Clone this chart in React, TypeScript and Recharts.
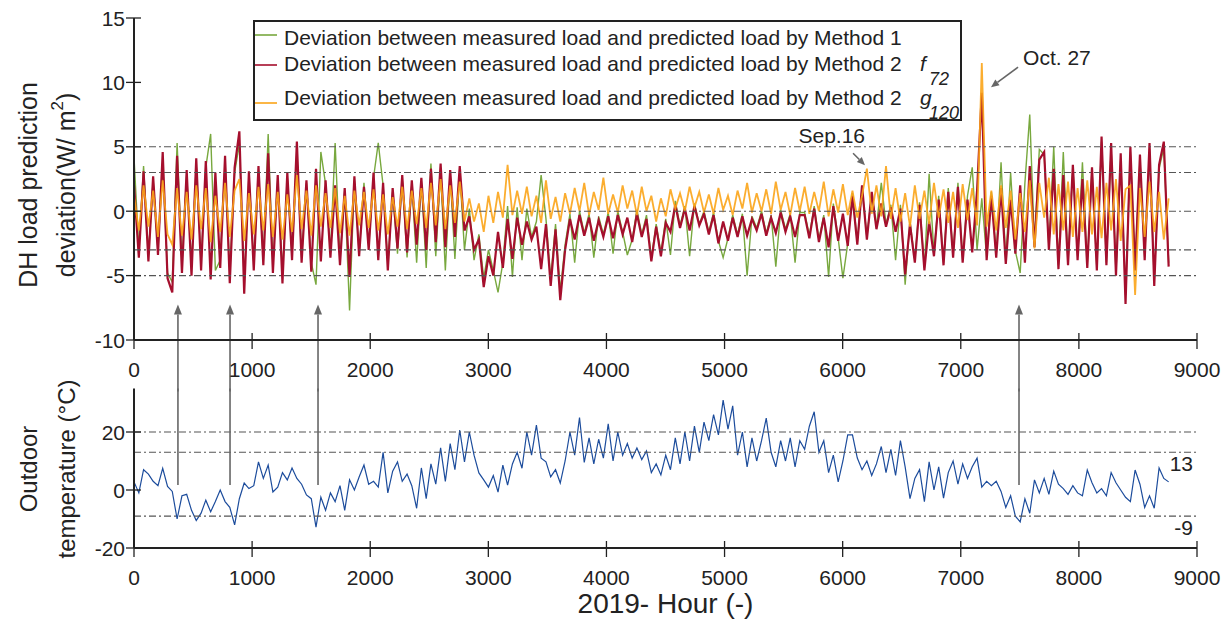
import React from 'react';
import { LineChart, Line, XAxis, YAxis, ReferenceLine, Legend } from 'recharts';

const FONT = '"Liberation Sans", Arial, Helvetica, sans-serif';
const INK = '#222';
const ARROW_GREY = '#666';

// ---------- data (one value every ~40.6 h) ----------
const N_POINTS = 217;
const HOURS = Array.from({ length: N_POINTS }, (_, i) => Math.round((i * 8760) / (N_POINTS - 1)));

const DEV_METHOD1 = [
  4.2, -3.0, 3.5, -3.4, 2.4, -3.0, 3.8, -4.8, -5.5, 5.3,
  -4.0, 2.8, -4.2, 3.6, -4.0, 3.4, 6.0, -4.6, -3.8, 3.8,
  -4.8, 3.0, 5.2, -5.5, 2.8, -4.0, 3.1, -3.8, 6.0, -4.2,
  2.5, -4.8, 2.6, -3.4, 4.6, -3.6, 2.2, -4.0, -5.7, 4.6,
  2.1, -3.2, 5.3, -3.8, 1.6, -7.7, 2.4, -3.2, 2.2, -2.7,
  2.6, 5.3, 2.0, -4.1, 1.5, -3.3, 2.5, -3.6, 2.1, -4.0,
  2.3, -4.4, 3.7, -3.5, 3.0, -4.6, 2.8, -3.7, 3.0, -3.0,
  0.2, -3.8, -1.8, -5.2, -3.0, -4.6, -6.3, -4.0, 0.4, -5.1,
  0.3, -3.8, 0.2, -2.0, -0.8, 2.8, -0.6, -5.2, -1.0, -6.2,
  -2.6, -0.2, -4.0, 0.0, -1.7, -0.2, -3.6, -0.4, -1.8, -0.1,
  -3.3, 0.0, -1.6, -3.4, -2.2, 0.1, -1.8, -0.3, -3.6, -1.0,
  -3.2, -0.6, -3.4, 0.8, -1.1, 0.4, -3.5, 0.6, -1.0, 0.0,
  -1.6, -0.1, -2.3, -3.6, -2.1, -0.3, -1.8, -0.2, -5.0, -0.4,
  -1.3, 0.0, -1.7, -0.3, -4.3, 0.1, -1.4, -0.2, -4.0, -0.1,
  -0.1, -1.9, 0.4, -2.2, -0.3, -5.1, 0.6, -2.1, -5.2, -2.5,
  1.4, -2.4, 1.8, -2.0, 1.3, -1.2, 2.2, -1.0, 0.5, -3.8,
  0.5, -5.7, -0.8, -3.8, 0.7, -4.4, 2.9, -3.3, 1.2, -4.0,
  1.8, -3.4, 2.2, -3.8, 1.2, 3.4, -3.0, 1.0, -3.6, 1.5,
  -3.4, 3.8, -3.9, 3.0, -3.1, -4.8, 2.2, 7.5, -2.6, 4.8,
  4.4, -2.8, 5.0, -4.2, 4.6, -3.9, 3.4, -3.5, 3.8, -4.1,
  3.2, -4.4, 5.4, -4.0, 4.8, -4.7, 4.1, -6.5, 4.6, -4.3,
  4.0, -3.6, 4.8, -5.4, 3.3, 4.9, -4.0,
];

const DEV_F72 = [
  2.0, -3.6, 3.1, -3.9, 2.7, -3.4, 4.6, -5.2, -6.3, 4.3,
  -4.8, 3.2, -5.0, 4.1, -4.6, 3.9, -5.3, 3.0, -4.4, 4.3,
  -5.6, 3.4, 6.2, -6.4, 3.1, -4.6, 3.5, -4.2, 4.5, -4.8,
  2.8, -5.6, 3.0, -3.8, 5.4, -4.0, 2.4, -4.7, 3.3, -3.9,
  2.4, -3.6, 2.0, -4.2, 1.8, -5.1, 2.7, -3.5, 1.9, -3.0,
  3.0, -3.8, 2.2, -4.6, 1.8, -2.9, 2.8, -3.2, 2.4, -2.6,
  2.6, -3.0, 3.3, -2.4, 3.7, -2.8, 3.2, -2.0, 3.5, -1.5,
  -0.4, -3.0, -2.2, -5.9, -3.5, -5.0, -1.6, -4.4, -0.6, -3.7,
  -0.5, -2.6, -0.8, -2.2, -1.2, -4.5, -1.0, -5.8, -1.4, -6.9,
  -3.0, -0.6, -2.2, -0.3, -1.9, -0.5, -2.3, -0.7, -2.0, -0.4,
  -2.1, -0.3, -1.8, -0.5, -2.4, -0.2, -2.0, -0.6, -3.9, -1.2,
  -3.5, -0.9, -1.6, 0.5, -1.3, 0.2, -1.5, 0.4, -1.1, -0.2,
  -1.8, -0.3, -2.5, -0.8, -2.3, -0.5, -2.0, -0.4, -1.9, -0.6,
  -1.5, -0.2, -1.9, -0.5, -1.7, -0.1, -1.6, -0.4, -2.0, -0.3,
  -0.3, -2.1, 0.2, -2.4, -0.5, -2.8, 0.4, -2.3, -0.2, -2.7,
  1.2, -2.6, 2.0, -2.2, 1.5, -1.4, 0.6, -1.2, 0.3, -1.6,
  0.2, -4.9, -1.0, -4.0, 0.5, -4.6, -0.8, -3.5, 0.9, -4.2,
  1.5, -3.6, 1.9, -4.0, 0.9, -3.2, 1.6, 9.2, -3.8, 1.2,
  -3.6, 1.8, -4.1, 0.9, -3.3, 2.0, -4.0, 3.5, -2.8, 4.0,
  4.6, -3.0, 3.3, -4.5, 2.8, -4.2, 3.6, -3.8, 2.5, -4.4,
  3.4, -4.6, 5.8, -4.2, 5.3, -5.0, 4.5, -7.2, 5.0, -4.6,
  4.4, -3.8, 5.3, -5.8, 3.6, 5.4, -4.3,
];

const DEV_G120 = [
  1.2, -1.5, 2.0, -1.2, 1.6, -2.0, 2.4, -1.8, -2.6, 1.8,
  -1.9, 1.5, -2.2, 2.0, -1.4, 1.8, -2.4, 1.2, -1.6, 2.2,
  -2.0, 1.6, 2.5, -2.3, 1.4, -1.8, 1.9, -1.5, 2.1, -2.0,
  1.5, -2.2, 1.3, -1.6, 2.8, -1.4, 1.6, -1.9, 2.0, -1.2,
  1.4, -1.3, 1.8, -1.7, 1.2, -1.9, 1.6, -1.1, 1.5, -1.3,
  1.7, -1.5, 1.3, -1.8, 1.1, -1.2, 1.9, -1.4, 1.6, -1.0,
  1.8, -1.3, 2.2, -1.1, 2.5, -1.4, 2.0, -0.9, 2.3, -0.8,
  1.0, -0.8, 0.6, -1.6, 1.2, -0.9, 1.5, -0.5, 3.6, -0.3,
  1.6, -0.2, 1.9, -0.4, 1.2, -0.9, 2.4, -0.6, 1.1, -0.8,
  1.4, -0.2, 1.8, 0.0, 2.2, -0.3, 1.5, 0.1, 2.6, -0.2,
  1.3, -0.1, 2.0, 0.2, 1.6, -0.3, 1.9, 0.0, 1.2, -0.8,
  1.0, -0.4, 1.7, 0.2, 1.4, 0.0, 1.9, 0.3, 1.5, -0.1,
  1.3, -0.2, 1.8, 0.1, 1.2, -0.3, 1.6, 0.2, 2.2, -0.1,
  1.4, 0.0, 1.7, -0.2, 2.3, 0.1, 1.5, -0.3, 1.8, 0.0,
  1.9, -0.2, 1.5, 0.0, 2.3, -0.4, 1.7, -0.1, 2.1, -0.3,
  1.6, -0.5, 1.2, 3.3, -0.2, 2.0, -0.4, 3.5, -0.6, 1.8,
  -0.8, 1.4, -1.2, 2.0, -0.6, 1.6, -1.0, 2.2, -0.5, 1.7,
  -0.9, 1.5, -1.3, 2.1, -0.7, 1.8, -1.1, 11.5, -1.2, 1.6,
  -1.5, 2.0, -1.3, 1.6, -2.2, 1.4, -1.6, 2.4, -2.9, 2.2,
  -0.5, 2.6, -1.8, 2.1, -1.5, 2.3, -2.0, 1.8, -1.6, 2.4,
  -1.8, 1.9, -2.1, 2.2, -1.5, 2.5, -2.3, 1.7, 2.0, -6.5,
  1.8, -2.0, 2.3, -1.6, 1.5, -2.2, 1.0,
];

const OUTDOOR_TEMP = [
  2.8, -1.0, 7.0, 5.5, 3.0, 1.5, 7.5, 1.2, -0.5, -10.0,
  -2.0, -1.5, -7.0, -10.5, -8.0, -3.5, -7.5, -4.0, 0.0, -4.0,
  -6.0, -12.0, -3.0, 2.4, 0.5, 1.5, 9.7, 4.0, 8.6, -0.7,
  1.0, 6.0, 3.5, 7.6, 4.0, 2.0, -1.7, -3.0, -12.8, -2.5,
  -7.0, -1.0, -4.0, 1.5, -7.0, 3.5, 0.0, 4.5, 8.6, 2.0,
  3.0, 1.0, 13.0, -1.0, 6.5, 9.7, 3.0, 5.5, 1.5, -6.3,
  7.6, -3.0, 9.0, 2.0, 14.5, 3.0, 16.0, 7.0, 20.7, 9.7,
  20.0, 12.0, 5.9, 3.5, 1.0, 5.0, -0.7, 8.6, 1.7, 9.0,
  13.0, 7.5, 20.0, 12.0, 22.4, 11.0, 9.7, 4.5, 7.0, 2.4,
  10.0, 20.0, 12.0, 25.0, 9.5, 18.0, 9.0, 17.5, 11.0, 22.8,
  10.0, 20.0, 12.0, 16.0, 11.0, 14.5, 10.5, 13.5, 6.0, 9.0,
  5.2, 12.0, 7.0, 18.0, 9.0, 20.0, 10.0, 22.0, 13.0, 23.4,
  17.0, 26.0, 19.0, 31.0, 21.0, 29.0, 12.0, 20.0, 8.0, 18.0,
  10.0, 17.0, 24.8, 13.0, 8.0, 17.0, 10.0, 18.0, 8.0, 17.0,
  14.0, 22.0, 27.0, 13.0, 17.0, 6.0, 12.0, 2.8, 10.0, 19.0,
  19.0, 11.0, 7.0, 10.0, 5.0, 9.0, 15.0, 6.0, 14.0, 5.0,
  17.0, 8.0, -3.0, 4.0, 7.0, -4.0, 9.7, 0.0, 8.0, -2.8,
  6.0, 10.0, 2.0, 9.0, 4.0, 8.0, 11.0, 1.0, 3.0, 1.5,
  3.0, -0.5, -6.0, -2.0, -9.0, -11.0, -3.0, -8.0, 3.5, -1.0,
  4.0, -1.5, 6.5, 2.0, 0.5, -1.5, 1.5, -1.0, -2.0, 6.9,
  2.5, -1.0, 0.5, -2.0, 6.0, 2.5, 0.0, -2.5, -4.0, 6.9,
  2.0, -6.0, -2.0, -6.3, 7.6, 4.0, 2.8,
];

const X_TICKS = [0, 1000, 2000, 3000, 4000, 5000, 6000, 7000, 8000, 9000];
const DEV_TICKS = [-10, -5, 0, 5, 10, 15];
const TEMP_TICKS = [-20, 0, 20];
const DEV_GUIDES = [5, 3, 0, -3, -5];
const TEMP_GUIDES = [20, 13, -9];
const TEMP_GUIDE_LABELS: Record<string, string> = { '13': '13', '-9': '-9' };
const ARROW_HOURS = [372, 813, 1558, 7493];

const SERIES_NAMES = [
  'Deviation between measured load and predicted load by Method 1',
  'Deviation between measured load and predicted load by Method 2',
  'Deviation between measured load and predicted load by Method 2',
];
const SERIES_SYMBOLS = ['', 'f', 'g'];
const SERIES_SUBS = ['', '72', '120'];
const SERIES_COLORS = ['#78a83e', '#a50f2d', '#fba418'];
const TEMP_COLOR = '#1c4c9c';

const DATA = HOURS.map((hour, i) => ({
  hour,
  m1: DEV_METHOD1[i],
  f72: DEV_F72[i],
  g120: DEV_G120[i],
  temp: OUTDOOR_TEMP[i],
}));

// ---------- tick renderers ----------
const BottomTick = (p: any) => (
  <g>
    <line x1={p.x} x2={p.x} y1={p.y - 7} y2={p.y + 9} stroke={INK} strokeWidth={1.3} />
    <text x={p.x} y={p.y + 37} textAnchor="middle" fontSize={21} fill={INK}>{p.payload.value}</text>
  </g>
);
const TopTickIn = (p: any) => (
  <line x1={p.x} x2={p.x} y1={p.y} y2={p.y + 10} stroke={INK} strokeWidth={1.3} />
);
const TopTickBoth = (p: any) => (
  <line x1={p.x} x2={p.x} y1={p.y - 6} y2={p.y + 6} stroke={INK} strokeWidth={1.3} />
);
const LeftTick = (p: any) => (
  <g>
    <line x1={p.x - 8} x2={p.x + 7} y1={p.y} y2={p.y} stroke={INK} strokeWidth={1.3} />
    <text x={p.x - 9} y={p.y + 7.5} textAnchor="end" fontSize={21} fill={INK}>{p.payload.value}</text>
  </g>
);
const RightTick = (p: any) => (
  <line x1={p.x - 4} x2={p.x + 12} y1={p.y} y2={p.y} stroke={INK} strokeWidth={1.3} />
);

const YTitle = ({ lines, cy, size }: { lines: React.ReactNode[]; cy: number; size: number }) => (
  <g>
    {lines.map((ln, i) => {
      const cx = 28 + i * 38;
      return (
        <text key={i} x={cx} y={cy} transform={`rotate(-90 ${cx} ${cy})`} textAnchor="middle"
          dominantBaseline="central" fontSize={size} fill={INK}>{ln}</text>
      );
    })}
  </g>
);

const XTitle = (p: any) => {
  const vb = p.viewBox || {};
  return (
    <text x={vb.x + vb.width / 2} y={vb.y + 65} textAnchor="middle" fontSize={28} fill={INK}>2019- Hour (-)</text>
  );
};

const arrowParts = (x1: number, y1: number, x2: number, y2: number, L = 10, W = 4) => {
  const dx = x2 - x1, dy = y2 - y1;
  const len = Math.hypot(dx, dy) || 1;
  const ux = dx / len, uy = dy / len;
  const bx = x2 - ux * L, by = y2 - uy * L;
  const pts = `${x2},${y2} ${bx - uy * W},${by + ux * W} ${bx + uy * W},${by - ux * W}`;
  return { bx, by, pts };
};

const ArrowShape = (p: any) => {
  const { x1, y1, x2, y2 } = p;
  const { bx, by, pts } = arrowParts(x1, y1, x2, y2, 10, 4);
  return (
    <g>
      <line x1={x1} y1={y1} x2={bx} y2={by} stroke={ARROW_GREY} strokeWidth={1.6} />
      <polygon points={pts} fill={ARROW_GREY} />
    </g>
  );
};

const makeNote = (text: string, anchor: 'start' | 'end', tdx: number, tdy: number) => (p: any) => {
  const { x1, y1, x2, y2 } = p;
  const { bx, by, pts } = arrowParts(x1, y1, x2, y2, 8, 3.5);
  return (
    <g>
      <line x1={x1} y1={y1} x2={bx} y2={by} stroke={ARROW_GREY} strokeWidth={1.6} />
      <polygon points={pts} fill={ARROW_GREY} />
      <text x={x1 + tdx} y={y1 + tdy} textAnchor={anchor} fontSize={21} fill={INK}>{text}</text>
    </g>
  );
};
const SepNote = makeNote('Sep.16', 'end', 12, -10);
const OctNote = makeNote('Oct. 27', 'start', 5, -2);

const LEGEND_LINE_Y = [15, 45, 83];
const LEGEND_BASE_Y = [25, 51, 85];
const LEGEND_SUB_Y = [0, 65, 99];

const LegendBox = () => (
  <svg width={709} height={101} style={{ display: 'block', overflow: 'visible' }}>
    <rect x={1} y={1} width={707} height={99} fill="#fff" stroke={INK} strokeWidth={2} />
    {SERIES_NAMES.map((name, i) => (
      <g key={i}>
        <line x1={2} x2={24} y1={LEGEND_LINE_Y[i]} y2={LEGEND_LINE_Y[i]} stroke={SERIES_COLORS[i]} strokeWidth={1.6} />
        <text x={31} y={LEGEND_BASE_Y[i]} fontSize={21} fill={INK}>{name}</text>
        {SERIES_SYMBOLS[i] && (
          <text x={667} y={LEGEND_BASE_Y[i]} fontSize={21} fontStyle="italic" fill={INK}>{SERIES_SYMBOLS[i]}</text>
        )}
        {SERIES_SUBS[i] && (
          <text x={676} y={LEGEND_SUB_Y[i]} fontSize={18} fontStyle="italic" fill={INK}>{SERIES_SUBS[i]}</text>
        )}
      </g>
    ))}
  </svg>
);

const guideProps = { stroke: '#555', strokeWidth: 1.1, strokeDasharray: '7 3 2 3' };
const axisLine = { stroke: INK, strokeWidth: 2 };

export default function App() {
  return (
    <div style={{ position: 'absolute', left: 0, top: 0, width: 1229, height: 630, background: '#fff', fontFamily: FONT }}>
      <div style={{ position: 'absolute', left: 0, top: 0 }}>
        <LineChart width={1229} height={395} data={DATA} margin={{ top: 18, right: 32, bottom: 15, left: 0 }}>
          <XAxis dataKey="hour" type="number" domain={[0, 9000]} ticks={X_TICKS} interval={0} allowDataOverflow
            height={40} tickSize={0} tickMargin={0} tickLine={false} tick={BottomTick} axisLine={axisLine} />
          <XAxis xAxisId="top" orientation="top" dataKey="hour" type="number" domain={[0, 9000]} ticks={X_TICKS}
            interval={0} height={0} tickSize={0} tickMargin={0} tickLine={false} tick={TopTickIn} axisLine={axisLine} />
          <YAxis type="number" domain={[-10, 15]} ticks={DEV_TICKS} interval={0} allowDataOverflow width={134}
            tickSize={0} tickMargin={0} tickLine={false} tick={LeftTick} axisLine={axisLine}
            label={<YTitle cy={185} size={25} lines={['DH load prediction', <>deviation(W/ m<tspan dy={-9} fontSize={17}>2</tspan><tspan dy={9}>)</tspan></>]} />} />
          <YAxis yAxisId="right" orientation="right" type="number" domain={[-10, 15]} ticks={DEV_TICKS} interval={0}
            width={0} tickSize={0} tickMargin={0} tickLine={false} tick={RightTick} axisLine={axisLine} />
          <Legend layout="vertical" align="center" verticalAlign="middle"
            wrapperStyle={{ left: 253, top: 20, width: 709, height: 101 }} content={() => <LegendBox />} />
          <Line dataKey="m1" name={SERIES_NAMES[0]} stroke={SERIES_COLORS[0]} strokeWidth={1.4} dot={false} isAnimationActive={false} />
          <Line dataKey="f72" name={SERIES_NAMES[1]} stroke={SERIES_COLORS[1]} strokeWidth={2.2} dot={false} isAnimationActive={false} />
          <Line dataKey="g120" name={SERIES_NAMES[2]} stroke={SERIES_COLORS[2]} strokeOpacity={0.9} strokeWidth={1.8} dot={false} isAnimationActive={false} />
          {DEV_GUIDES.map((v) => (
            <ReferenceLine key={v} y={v} {...guideProps} />
          ))}
          {ARROW_HOURS.map((h) => (
            <ReferenceLine key={`a${h}`} segment={[{ x: h, y: -14 }, { x: h, y: -7.25 }]} ifOverflow="visible" shape={ArrowShape} />
          ))}
          <ReferenceLine segment={[{ x: 6088, y: 4.5 }, { x: 6189, y: 3.57 }]} ifOverflow="visible" shape={SepNote} />
          <ReferenceLine segment={[{ x: 7485, y: 11.18 }, { x: 7256, y: 9.63 }]} ifOverflow="visible" shape={OctNote} />
        </LineChart>
      </div>
      <div style={{ position: 'absolute', left: 0, top: 350 }}>
        <LineChart width={1229} height={280} data={DATA} margin={{ top: 38.5, right: 32, bottom: 42, left: 0 }}>
          <XAxis dataKey="hour" type="number" domain={[0, 9000]} ticks={X_TICKS} interval={0} allowDataOverflow
            height={40} tickSize={0} tickMargin={0} tickLine={false} tick={BottomTick} axisLine={axisLine}
            label={<XTitle />} />
          <XAxis xAxisId="top" orientation="top" dataKey="hour" type="number" domain={[0, 9000]} ticks={X_TICKS}
            interval={0} height={0} tickSize={0} tickMargin={0} tickLine={false} tick={TopTickBoth} axisLine={axisLine} />
          <YAxis type="number" domain={[-20, 35]} ticks={TEMP_TICKS} interval={0} allowDataOverflow width={134}
            tickSize={0} tickMargin={0} tickLine={false} tick={LeftTick} axisLine={axisLine}
            label={<YTitle cy={119} size={24} lines={['Outdoor', 'temperature (°C)']} />} />
          <YAxis yAxisId="right" orientation="right" type="number" domain={[-20, 35]} ticks={TEMP_TICKS} interval={0}
            width={0} tickSize={0} tickMargin={0} tickLine={false} tick={RightTick} axisLine={axisLine} />
          <Line dataKey="temp" stroke={TEMP_COLOR} strokeWidth={1.2} dot={false} isAnimationActive={false} />
          {TEMP_GUIDES.map((v) => (
            <ReferenceLine key={v} y={v} {...guideProps}
              label={TEMP_GUIDE_LABELS[String(v)] ? { value: TEMP_GUIDE_LABELS[String(v)], position: 'insideTopRight', offset: 4, fontSize: 21, fill: INK } : undefined} />
          ))}
          {ARROW_HOURS.map((h) => (
            <ReferenceLine key={`b${h}`} segment={[{ x: h, y: 1.7 }, { x: h, y: 35 }]} ifOverflow="visible"
              stroke={ARROW_GREY} strokeWidth={1.6} />
          ))}
        </LineChart>
      </div>
    </div>
  );
}
